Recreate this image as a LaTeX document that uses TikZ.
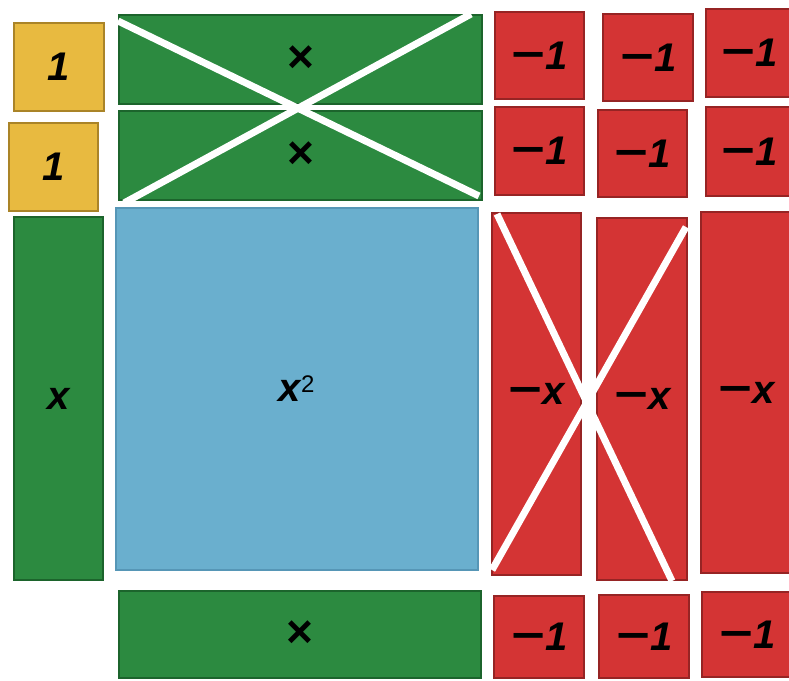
\documentclass[tikz,border=0pt]{standalone}
\usepackage{fontspec}
\usepackage{graphicx}
\setmainfont{Liberation Sans}
\definecolor{tgreen}{RGB}{44,138,64}
\definecolor{tgreenb}{RGB}{28,100,44}
\definecolor{tred}{RGB}{212,52,52}
\definecolor{tredb}{RGB}{150,36,36}
\definecolor{tyel}{RGB}{232,186,64}
\definecolor{tyelb}{RGB}{170,132,40}
\definecolor{tblue}{RGB}{106,175,206}
\definecolor{tblueb}{RGB}{86,150,182}
\newcommand\mns{\scalebox{1.45}[1.1]{−}\kern1pt}
\newcommand\tms{{\fontsize{46}{46}\selectfont\bfseries\upshape ×}}
\tikzset{
  tilebase/.style={rectangle, inner sep=0pt, outer sep=0pt, line width=2pt,
    font=\fontsize{40}{40}\selectfont\bfseries\itshape},
  gtile/.style={tilebase, fill=tgreen, draw=tgreenb},
  rtile/.style={tilebase, fill=tred, draw=tredb},
  ytile/.style={tilebase, fill=tyel, draw=tyelb},
  btile/.style={tilebase, fill=tblue, draw=tblueb},
  crossline/.style={white, line width=7pt}
}
\newcommand\tile[7]{%
  \node[#6, minimum width={(#4-#2)*1pt}, minimum height={(#5-#3)*1pt}]
    (#1) at ({(#2+#4)/2},{(#3+#5)/2}) {#7};}
\begin{document}
\begin{tikzpicture}[x=1pt,y=-1pt]
\useasboundingbox (0,0) rectangle (789,680);
% yellow unit tiles
\tile{y1}{14}{23}{104}{111}{ytile}{1}
\tile{y2}{9}{123}{98}{211}{ytile}{1}
% green x tiles
\tile{gv}{14}{217}{103}{580}{gtile}{x}
\tile{gh1}{119}{15}{482}{104}{gtile}{\tms}
\tile{gh2}{119}{111}{482}{200}{gtile}{\tms}
\tile{gh3}{119}{591}{481}{678}{gtile}{\tms}
% blue x^2
\tile{bl}{116}{208}{478}{570}{btile}{x\textsuperscript{\fontsize{24}{24}\selectfont\mdseries\upshape 2}}
% red -1 tiles
\tile{r11}{495}{12}{584}{99}{rtile}{\mns1}
\tile{r12}{603}{14}{693}{101}{rtile}{\mns1}
\tile{r13}{706}{9}{792}{97}{rtile}{\mns1}
\tile{r21}{495}{107}{584}{195}{rtile}{\mns1}
\tile{r22}{598}{110}{687}{197}{rtile}{\mns1}
\tile{r23}{706}{107}{792}{196}{rtile}{\mns1}
\tile{r31}{494}{596}{584}{678}{rtile}{\mns1}
\tile{r32}{599}{595}{689}{678}{rtile}{\mns1}
\tile{r33}{702}{592}{792}{677}{rtile}{\mns1}
% red -x tiles
\tile{rx1}{492}{213}{581}{575}{rtile}{\mns x}
\tile{rx2}{597}{218}{687}{580}{rtile}{\mns x}
\tile{rx3}{701}{212}{792}{573}{rtile}{\mns x}
% crosses
\coordinate (ga) at (118,21);
\coordinate (gb) at (479,196);
\coordinate (gc) at (471,14);
\coordinate (gd) at (124,203);
\draw[crossline] (ga) -- (gb);
\draw[crossline] (gc) -- (gd);
\coordinate (ra) at (497,214);
\coordinate (rb) at (672,581);
\coordinate (rc) at (686,227);
\coordinate (rd) at (492,570);
\draw[crossline] (ra) -- (rb);
\draw[crossline] (rc) -- (rd);
\end{tikzpicture}
\end{document}
